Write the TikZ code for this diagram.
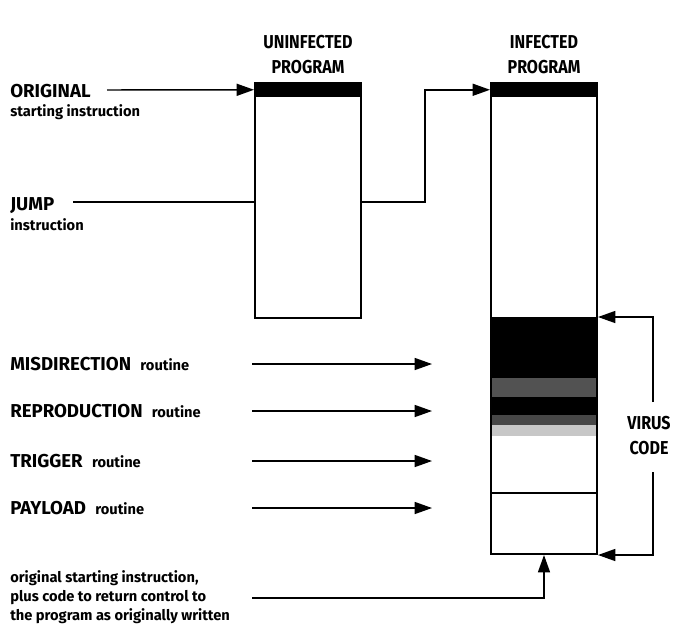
\documentclass[tikz,border=0pt]{standalone}
\usepackage{fontspec}
\setmainfont{Fira Sans}
\usetikzlibrary{arrows.meta,positioning}
\newcommand\subfnt{\fontsize{11}{14.5}\selectfont}
\tikzset{
  progbox/.style={draw, line width=1.5pt, inner sep=0pt, minimum width=79.5pt},
  progtop/.style={fill=black, inner sep=0pt, minimum width=79.5pt, minimum height=11.25pt},
  heading/.style={font=\fontsize{14}{18.75}\selectfont\bfseries\addfontfeature{FakeStretch=0.86}, align=center, inner sep=0pt},
  lbl/.style={font=\fontsize{14}{17}\selectfont\bfseries, anchor=base west, inner sep=0pt},
  sub/.style={font=\subfnt\bfseries, anchor=base west, inner sep=0pt},
  link/.style={line width=1.1pt, -{Triangle[length=13pt,width=9pt]}},
  plain link/.style={line width=1.1pt},
}
\begin{document}
\begin{tikzpicture}[x=0.75pt,y=-0.75pt]
  \useasboundingbox (0,0) rectangle (675,626);
  \node[progbox, minimum height=176.25pt, anchor=north west] (uninf) at (254,82) {};
  \node[progtop, anchor=north west] (utop) at (254,82) {};
  \node[heading, above=6pt of uninf.north] (uhd) {UNINFECTED\\PROGRAM};
  \fill (490,317) rectangle (596,436);
  \fill[black!68] (490,378) rectangle (596,397);
  \fill[black!72] (490,415) rectangle (596,425);
  \fill[black!22] (490,425) rectangle (596,436);
  \draw[line width=1.1pt] (490,493) -- (596,493);
  \node[progbox, minimum height=353.25pt, anchor=north west] (inf) at (490,82) {};
  \node[progtop, anchor=north west] (itop) at (490,82) {};
  \node[heading, above=6pt of inf.north] (ihd) {INFECTED\\PROGRAM};
  \node[lbl] (orig) at (10,97) {ORIGINAL};
  \node[sub] (origsub) at (10,116) {starting instruction};
  \node[lbl] (jump) at (10,210) {JUMP};
  \node[sub] (jumpsub) at (10,230) {instruction};
  \coordinate (o1) at (107,90);
  \draw[link] (o1) -- (utop.west);
  \coordinate (j1) at (73,202);
  \draw[plain link] (j1) -- (uninf.west |- j1);
  \coordinate (j2) at (425,202);
  \draw[link] (uninf.east |- j2) -- (j2) |- (itop.west);
  \foreach \nm/\yy/\id in {MISDIRECTION/364/mis,REPRODUCTION/411/rep,TRIGGER/461/trig,PAYLOAD/508/pay}{
    \node[lbl] (\id) at (10,\yy+6) {\nm\hspace{.5em}{\subfnt routine}};
    \coordinate (\id a) at (252,\yy);
    \coordinate (\id b) at (432,\yy);
    \draw[link] (\id a) -- (\id b);
  }
  \node[heading] (vcode) at (649,436) {VIRUS\\CODE};
  \coordinate (v1) at (653,402);
  \coordinate (v2) at (653,472);
  \draw[link] (v1) |- (inf.east |- 0,317);
  \draw[link] (v2) |- (inf.south east);
  \node[sub, align=left, anchor=north west] (ret) at (10,570)
    {original starting instruction,\\plus code to return control to\\the program as originally written};
  \coordinate (r1) at (252,598);
  \draw[link] (r1) -| (inf.south);
\end{tikzpicture}
\end{document}
